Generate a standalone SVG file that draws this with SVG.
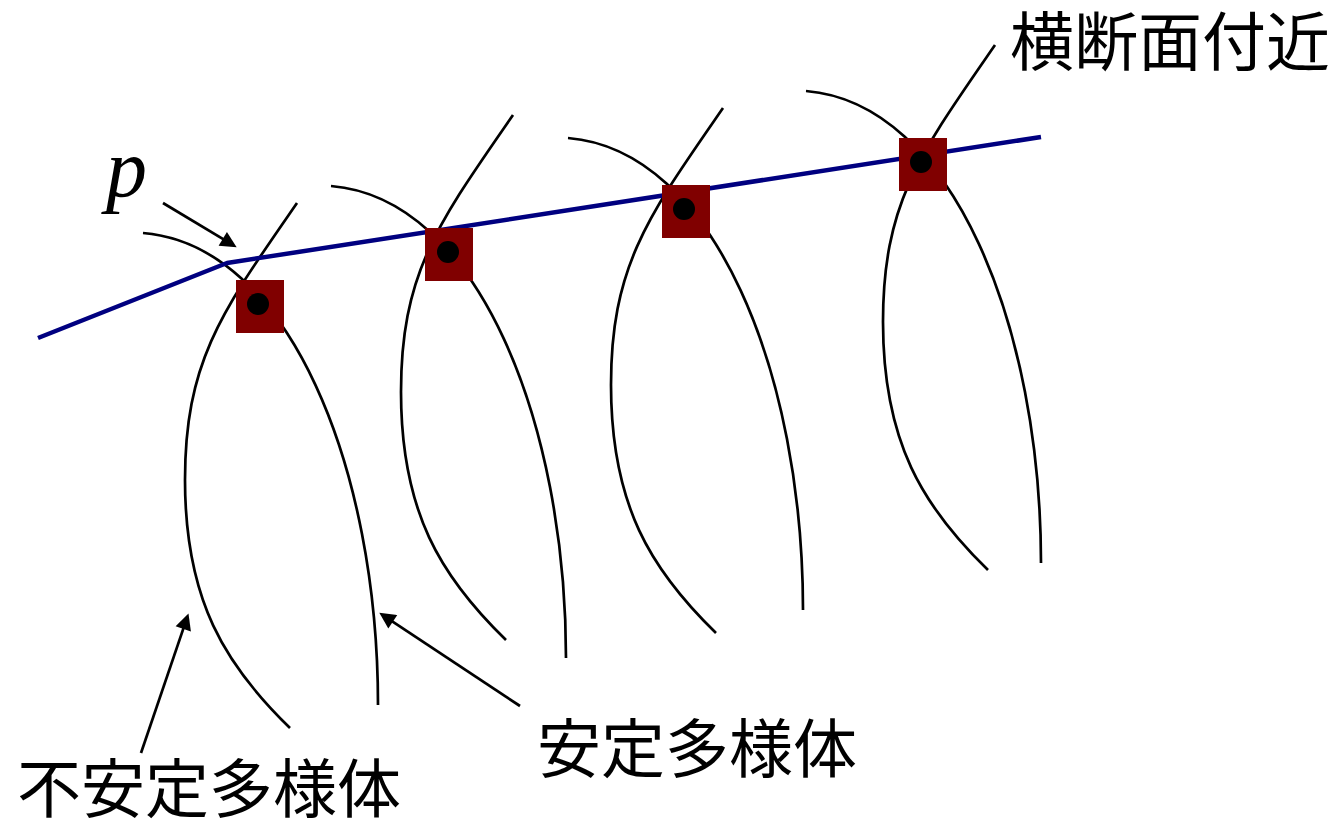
<svg xmlns="http://www.w3.org/2000/svg" width="1337" height="826" viewBox="0 0 1337 826">
<style>
.curve{fill:none;stroke:#000;stroke-width:2.7}
.sec{fill:none;stroke:#000080;stroke-width:4.5;stroke-linejoin:round}
.pt{fill:#800000}
.dot{fill:#000}
.arr{fill:none;stroke:#000;stroke-width:2.7;marker-end:url(#ah)}
.lbl{font-family:"Liberation Serif","Noto Sans CJK JP",serif;font-size:64px;fill:#000}
.var{font-family:"Liberation Serif","Times New Roman",serif;font-style:italic;font-size:82px;fill:#000}
</style>
<defs>
<marker id="ah" viewBox="0 0 10 10" refX="6" refY="5" markerWidth="8" markerHeight="6" orient="auto" markerUnits="strokeWidth">
<path d="M0,0 L10,5 L0,10 Z" fill="#000"/>
</marker>
<path id="um" d="M297,203 C223,310 185,360 185,480 C185,600 225,665 290,728"/>
<path id="sm" d="M143,233 C290,245 378,470 378,705"/>
</defs>
<g id="manifolds" class="curve">
<use href="#um"/>
<use href="#sm"/>
<use href="#um" transform="translate(216,-88)"/>
<use href="#sm" transform="translate(188,-47)"/>
<use href="#um" transform="translate(426,-95)"/>
<use href="#sm" transform="translate(425,-95)"/>
<use href="#um" transform="translate(698,-158)"/>
<use href="#sm" transform="translate(663,-142)"/>
</g>
<g id="section">
<path class="sec" d="M38,338 L227,263 L1041,137"/>
</g>
<g id="point1"><rect class="pt" x="236" y="280" width="48" height="53"/><circle class="dot" cx="258" cy="304" r="11"/></g>
<g id="point2"><rect class="pt" x="425" y="228" width="48" height="53"/><circle class="dot" cx="448" cy="252" r="11"/></g>
<g id="point3"><rect class="pt" x="662" y="185" width="48" height="53"/><circle class="dot" cx="684" cy="209" r="11"/></g>
<g id="point4"><rect class="pt" x="899" y="138" width="48" height="53"/><circle class="dot" cx="921" cy="162" r="11"/></g>
<g id="connectors">
<path class="arr" d="M163,203 L231.1,243.9"/>
<path class="arr" d="M141,753 L186.4,619.6"/>
<path class="arr" d="M520,706 L384.7,616.4"/>
</g>
<g id="labels">
<text class="var" x="106" y="196">p</text>
<text class="lbl" x="1010" y="65">横断面付近</text>
<text class="lbl" x="537" y="772">安定多様体</text>
<text class="lbl" x="17" y="812">不安定多様体</text>
</g>
</svg>
